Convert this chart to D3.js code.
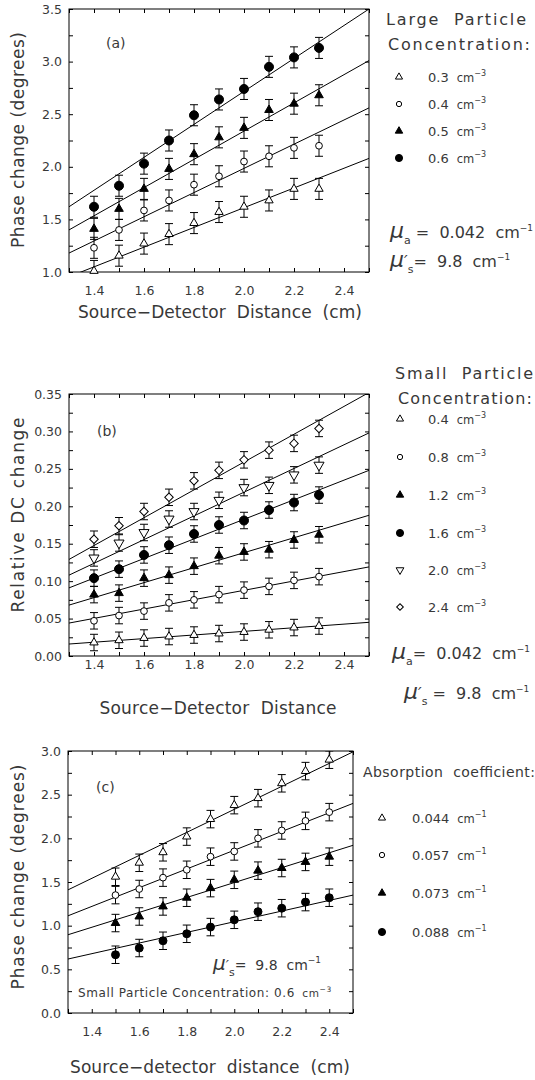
<!DOCTYPE html>
<html>
<head>
<meta charset="utf-8">
<script src="https://cdn.jsdelivr.net/npm/d3@7"></script>
<style>
  body { margin: 0; background: #fff; }
  text { white-space: pre; }
</style>
</head>
<body>
<svg id="fig" width="535" height="1080"></svg>
<script>
// ---------- data ----------
const distAB = [1.4, 1.5, 1.6, 1.7, 1.8, 1.9, 2.0, 2.1, 2.2, 2.3];
const distC  = [1.5, 1.6, 1.7, 1.8, 1.9, 2.0, 2.1, 2.2, 2.3, 2.4];
const xTicks = [1.3, 1.4, 1.5, 1.6, 1.7, 1.8, 1.9, 2.0, 2.1, 2.2, 2.3, 2.4, 2.5];
const xLabels = [1.4, 1.6, 1.8, 2.0, 2.2, 2.4];

// (a) phase change vs distance, large particle concentration
const aLegend   = ["0.3", "0.4", "0.5", "0.6"];
const aTriOpen  = [1.01, 1.155, 1.27, 1.36, 1.465, 1.57, 1.62, 1.68, 1.79, 1.79];
const aCircOpen = [1.23, 1.40, 1.585, 1.68, 1.83, 1.91, 2.05, 2.10, 2.18, 2.20];
const aTriFill  = [1.41, 1.60, 1.79, 1.98, 2.12, 2.28, 2.37, 2.54, 2.60, 2.68];
const aCircFill = [1.62, 1.82, 2.03, 2.25, 2.49, 2.64, 2.74, 2.95, 3.04, 3.13];
const aFitStart = [0.955, 1.18, 1.40, 1.62];   // fit value at 1.3 cm
const aFitEnd   = [2.08, 2.56, 3.01, 3.50];    // fit value at 2.5 cm
const aErr = 0.1;
const aYTicks = [1.0, 1.25, 1.5, 1.75, 2.0, 2.25, 2.5, 2.75, 3.0, 3.25, 3.5];

// (b) relative DC change vs distance, small particle concentration
const bLegend   = ["0.4", "0.8", "1.2", "1.6", "2.0", "2.4"];
const bTriOpen  = [0.018, 0.021, 0.024, 0.026, 0.028, 0.030, 0.032, 0.035, 0.038, 0.040];
const bCircOpen = [0.047, 0.054, 0.060, 0.071, 0.075, 0.082, 0.088, 0.093, 0.101, 0.106];
const bTriFill  = [0.082, 0.084, 0.104, 0.108, 0.120, 0.134, 0.139, 0.142, 0.155, 0.162];
const bCircFill = [0.104, 0.116, 0.135, 0.148, 0.163, 0.175, 0.181, 0.195, 0.205, 0.215];
const bTriDown  = [0.131, 0.151, 0.165, 0.183, 0.193, 0.208, 0.225, 0.228, 0.242, 0.255];
const bDiamond  = [0.156, 0.174, 0.193, 0.212, 0.234, 0.248, 0.262, 0.275, 0.284, 0.304];
const bFitStart = [0.016, 0.044, 0.068, 0.091, 0.108, 0.129];
const bFitEnd   = [0.045, 0.119, 0.188, 0.248, 0.298, 0.352];
const bErr = 0.011;
const bYTicks = [0, 0.025, 0.05, 0.075, 0.1, 0.125, 0.15, 0.175, 0.2, 0.225, 0.25, 0.275, 0.3, 0.325, 0.35];

// (c) phase change vs distance, absorption coefficient
const cLegend   = ["0.044", "0.057", "0.073", "0.088"];
const cTriOpen  = [1.56, 1.72, 1.84, 2.02, 2.22, 2.38, 2.46, 2.63, 2.77, 2.90];
const cCircOpen = [1.35, 1.42, 1.55, 1.64, 1.79, 1.85, 2.00, 2.09, 2.20, 2.30];
const cTriFill  = [1.03, 1.105, 1.22, 1.32, 1.43, 1.525, 1.63, 1.66, 1.73, 1.79];
const cCircFill = [0.667, 0.744, 0.827, 0.907, 0.984, 1.067, 1.16, 1.20, 1.27, 1.32];
const cFitStart = [1.41, 1.113, 0.896, 0.618];
const cFitEnd   = [2.99, 2.40, 1.92, 1.35];
const cErr = 0.1;
const cYTicks = [0, 0.25, 0.5, 0.75, 1.0, 1.25, 1.5, 1.75, 2.0, 2.25, 2.5, 2.75, 3.0];

// ---------- drawing ----------
const FF = "'DejaVu Sans', 'Liberation Sans', sans-serif";
const INK = "#383838";
const svg = d3.select("#fig");

const symbolSpec = {
  triOpen:   { type: d3.symbolTriangle, fill: "#fff", rot: 0 },
  circOpen:  { type: d3.symbolCircle,   fill: "#fff", rot: 0 },
  triFill:   { type: d3.symbolTriangle, fill: "#000", rot: 0 },
  circFill:  { type: d3.symbolCircle,   fill: "#000", rot: 0 },
  triDown:   { type: d3.symbolTriangle, fill: "#fff", rot: 180 },
  diamond:   { type: d3.symbolSquare,   fill: "#fff", rot: 45 }
};

function marker(g, kind, size, cx, cy) {
  const s = symbolSpec[kind];
  g.append("path")
    .attr("d", d3.symbol().type(s.type).size(size)())
    .attr("transform", `translate(${cx},${cy}) rotate(${s.rot})`)
    .attr("fill", s.fill)
    .attr("stroke", "#000")
    .attr("stroke-width", 1);
}

function cmText(g, x, y, num, exp, numSize) {
  const t = g.append("text").attr("x", x).attr("y", y)
    .attr("font-family", FF).attr("fill", INK);
  t.append("tspan").attr("font-size", numSize).text(num);
  t.append("tspan").attr("font-size", 11.5).attr("dx", 8).text("cm");
  t.append("tspan").attr("font-size", 8).attr("dy", -6).text(exp);
  return t;
}

function muText(g, x, y, sub, prime, value, gap, size) {
  const fs = size || 16;
  const t = g.append("text").attr("x", x).attr("y", y)
    .attr("font-family", FF).attr("fill", INK);
  t.append("tspan").attr("font-size", fs + 6).attr("font-style", "italic").text("μ");
  if (prime) t.append("tspan").attr("font-size", fs).attr("font-style", "italic").text("′");
  t.append("tspan").attr("font-size", 11).attr("dy", 6).text(sub);
  t.append("tspan").attr("font-size", fs).attr("dy", -6).text(gap + "=  " + value + "  cm");
  t.append("tspan").attr("font-size", 9).attr("dy", -7).text("−1");
}

let clipId = 0;
function drawPanel(cfg) {
  const b = cfg.box;
  const x = d3.scaleLinear().domain([1.3, 2.5]).range([b.x0, b.x1]);
  const y = d3.scaleLinear().domain(cfg.yDomain).range([b.y1, b.y0]);
  const g = svg.append("g");

  // plot-area clip
  const id = "clip" + (clipId++);
  svg.append("clipPath").attr("id", id).append("rect")
    .attr("x", b.x0).attr("y", b.y0).attr("width", b.x1 - b.x0).attr("height", b.y1 - b.y0);

  // axes with inward ticks on all four sides
  const styleAxis = sel => {
    sel.select(".domain").remove();
    sel.selectAll("line").attr("stroke", "#000");
    sel.selectAll("text").attr("font-family", FF).attr("font-size", 12.5).attr("fill", INK);
  };
  const labSet = new Set(xLabels.map(v => v.toFixed(1)));
  g.append("g").attr("transform", `translate(0,${b.y1})`)
    .call(d3.axisBottom(x).tickValues(xTicks).tickSize(-4).tickPadding(cfg.xPad)
      .tickFormat(d => labSet.has(d.toFixed(1)) ? d.toFixed(1) : ""))
    .call(styleAxis);
  g.append("g").attr("transform", `translate(0,${b.y0})`)
    .call(d3.axisTop(x).tickValues(xTicks).tickSize(-4).tickFormat(() => ""))
    .call(styleAxis);
  g.append("g").attr("transform", `translate(${b.x0},0)`)
    .call(d3.axisLeft(y).tickValues(cfg.yTicks).tickSize(-4).tickPadding(7)
      .tickFormat((d, i) => i % 2 === 0 ? d3.format(cfg.yFmt)(d) : ""))
    .call(styleAxis);
  g.append("g").attr("transform", `translate(${b.x1},0)`)
    .call(d3.axisRight(y).tickValues(cfg.yTicks).tickSize(-4).tickFormat(() => ""))
    .call(styleAxis);

  g.append("rect").attr("x", b.x0).attr("y", b.y0)
    .attr("width", b.x1 - b.x0).attr("height", b.y1 - b.y0)
    .attr("fill", "none").attr("stroke", "#000").attr("stroke-width", 1);

  const inner = g.append("g").attr("clip-path", `url(#${id})`);

  // fitted lines
  cfg.fitStart.forEach((v0, i) => {
    inner.append("line")
      .attr("x1", x(1.3)).attr("y1", y(v0))
      .attr("x2", x(2.5)).attr("y2", y(cfg.fitEnd[i]))
      .attr("stroke", "#000").attr("stroke-width", 1);
  });

  // error bars
  cfg.series.forEach(s => {
    s.vals.forEach((v, i) => {
      const cx = x(cfg.dist[i]);
      const top = y(v + cfg.err), bot = y(v - cfg.err);
      inner.append("line").attr("x1", cx).attr("x2", cx).attr("y1", top).attr("y2", bot)
        .attr("stroke", "#000").attr("stroke-width", 1);
      [top, bot].forEach(yy => inner.append("line")
        .attr("x1", cx - 4).attr("x2", cx + 4).attr("y1", yy).attr("y2", yy)
        .attr("stroke", "#000").attr("stroke-width", 1));
    });
  });

  // markers
  const mk = g.append("g");
  cfg.series.forEach(s => {
    s.vals.forEach((v, i) => marker(mk, s.kind, s.size, x(cfg.dist[i]), y(v)));
  });

  // panel tag
  g.append("text").attr("x", cfg.tag[1]).attr("y", cfg.tag[2])
    .attr("font-family", FF).attr("font-size", 14).attr("fill", INK).text(cfg.tag[0]);

  // axis titles
  g.append("text")
    .attr("transform", `translate(24,${cfg.yTitle[1]}) rotate(-90)`)
    .attr("text-anchor", "middle").attr("font-family", FF).attr("font-size", 17)
    .attr("fill", INK).attr("textLength", cfg.yTitle[2]).attr("lengthAdjust", "spacing")
    .text(cfg.yTitle[0]);
  g.append("text")
    .attr("x", cfg.xTitle[1]).attr("y", cfg.xTitle[2])
    .attr("text-anchor", "middle").attr("font-family", FF).attr("font-size", 17)
    .attr("fill", INK).attr("textLength", cfg.xTitle[3]).attr("lengthAdjust", "spacing")
    .text(cfg.xTitle[0]);
  return g;
}

// ----- panel (a) -----
drawPanel({
  box: { x0: 69, x1: 369, y0: 9, y1: 272 },
  yDomain: [1.0, 3.5], yTicks: aYTicks, yFmt: ".1f", xPad: 14,
  dist: distAB, err: aErr, fitStart: aFitStart, fitEnd: aFitEnd,
  series: [
    { vals: aTriOpen,  kind: "triOpen",  size: 30 },
    { vals: aCircOpen, kind: "circOpen", size: 36 },
    { vals: aTriFill,  kind: "triFill",  size: 32 },
    { vals: aCircFill, kind: "circFill", size: 64 }
  ],
  tag: ["(a)", 106, 48],
  yTitle: ["Phase change (degrees)", 140, 216],
  xTitle: ["Source−Detector  Distance  (cm)", 220, 318, 284]
});

// ----- panel (b) -----
drawPanel({
  box: { x0: 69, x1: 369, y0: 394, y1: 656 },
  yDomain: [0, 0.35], yTicks: bYTicks, yFmt: ".2f", xPad: 4,
  dist: distAB, err: bErr, fitStart: bFitStart, fitEnd: bFitEnd,
  series: [
    { vals: bTriOpen,  kind: "triOpen",  size: 30 },
    { vals: bCircOpen, kind: "circOpen", size: 36 },
    { vals: bTriFill,  kind: "triFill",  size: 32 },
    { vals: bCircFill, kind: "circFill", size: 64 },
    { vals: bTriDown,  kind: "triDown",  size: 44 },
    { vals: bDiamond,  kind: "diamond",  size: 36 }
  ],
  tag: ["(b)", 97, 436],
  yTitle: ["Relative DC change", 515, 195],
  xTitle: ["Source−Detector  Distance", 218, 714, 237]
});

// ----- panel (c) -----
const gC = drawPanel({
  box: { x0: 68, x1: 353, y0: 751, y1: 1013 },
  yDomain: [0, 3.0], yTicks: cYTicks, yFmt: ".1f", xPad: 14,
  dist: distC, err: cErr, fitStart: cFitStart, fitEnd: cFitEnd,
  series: [
    { vals: cTriOpen,  kind: "triOpen",  size: 30 },
    { vals: cCircOpen, kind: "circOpen", size: 36 },
    { vals: cTriFill,  kind: "triFill",  size: 32 },
    { vals: cCircFill, kind: "circFill", size: 50 }
  ],
  tag: ["(c)", 96, 792],
  yTitle: ["Phase change (degrees)", 877, 225],
  xTitle: ["Source−detector  distance  (cm)", 210, 1073, 280]
});

// notes inside panel (c)
muText(gC, 213, 970, "s", true, "9.8", "", 14);
{
  const t = gC.append("text").attr("x", 78).attr("y", 997)
    .attr("font-family", FF).attr("fill", INK).attr("letter-spacing", 0.6);
  t.append("tspan").attr("font-size", 12).text("Small Particle Concentration: 0.6 ");
  t.append("tspan").attr("font-size", 10.5).attr("dx", 3).text("cm");
  t.append("tspan").attr("font-size", 7.5).attr("dy", -5).text("−3");
}

// ---------- legends ----------
const leg = svg.append("g");
function legendTitle(txt, x, y, len, size) {
  leg.append("text").attr("x", x).attr("y", y).attr("font-family", FF)
    .attr("font-size", size).attr("fill", INK)
    .attr("textLength", len).attr("lengthAdjust", "spacing").text(txt);
}

// (a)
legendTitle("Large  Particle", 386, 25, 140, 16);
legendTitle("Concentration:", 388, 50, 142, 16);
const aKinds = ["triOpen", "circOpen", "triFill", "circFill"];
const aLegSize = [22, 22, 24, 40];
const aRows = [77, 104, 131, 158];
aLegend.forEach((lab, i) => {
  marker(leg, aKinds[i], aLegSize[i], 399, aRows[i]);
  cmText(leg, 428, aRows[i] + 5, lab, "−3", 13);
});
muText(leg, 390, 238, "a", false, "0.042", " ");
muText(leg, 390, 267, "s", true, "9.8", "");

// (b)
legendTitle("Small  Particle", 395, 379, 138, 16);
legendTitle("Concentration:", 398, 404, 134, 16);
const bKinds = ["triOpen", "circOpen", "triFill", "circFill", "triDown", "diamond"];
const bLegSize = [22, 22, 24, 40, 26, 22];
const bRows = [419, 457, 495, 533, 570, 607];
bLegend.forEach((lab, i) => {
  marker(leg, bKinds[i], bLegSize[i], 400, bRows[i]);
  cmText(leg, 428, bRows[i] + 5, lab, "−3", 13);
});
muText(leg, 392, 659, "a", false, "0.042", "");
muText(leg, 404, 699, "s", true, "9.8", " ");

// (c)
legendTitle("Absorption  coefficient:", 363, 777, 172, 14);
const cKinds = ["triOpen", "circOpen", "triFill", "circFill"];
const cLegSize = [22, 22, 24, 40];
const cRows = [818, 855, 893, 932];
cLegend.forEach((lab, i) => {
  marker(leg, cKinds[i], cLegSize[i], 382, cRows[i]);
  cmText(leg, 412, cRows[i] + 5, lab, "−1", 13);
});
</script>
</body>
</html>
